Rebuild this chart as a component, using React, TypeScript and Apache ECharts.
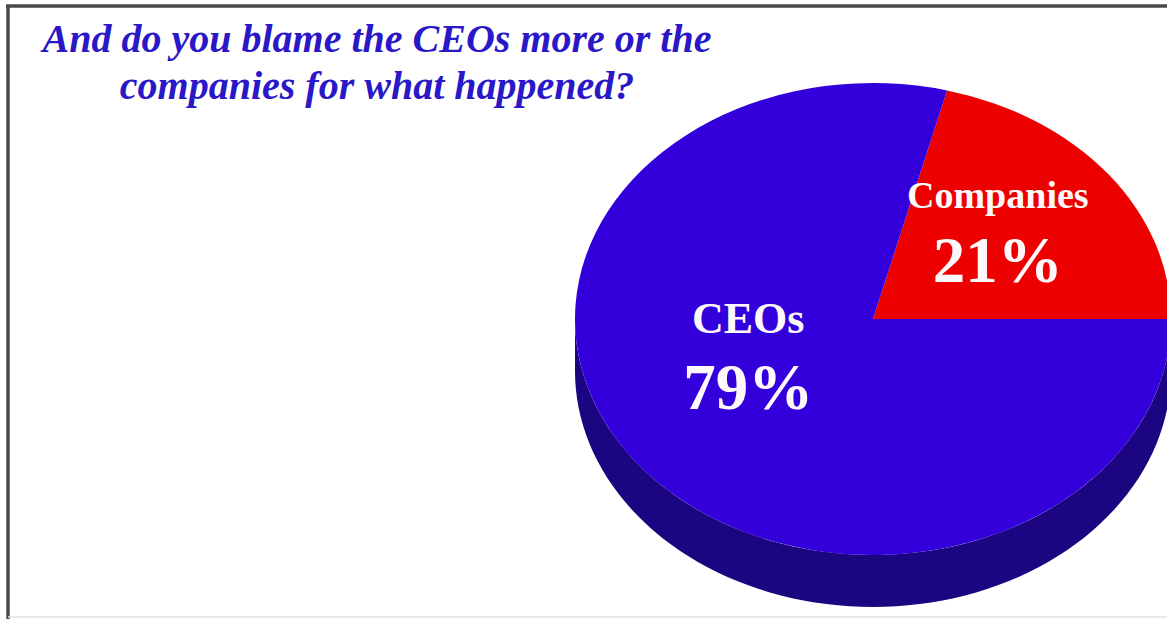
import React, { useEffect, useRef } from "react";
import * as echarts from "echarts";

// ---- data ----
const categories = ["Companies", "CEOs"];
const shares = [21, 79];
const valueLabels = ["21%", "79%"];
const titleLines = ["And do you blame the CEOs more or the", "companies for what happened?"];

// ---- styles ----
const SLICE_COLORS = ["#ec0000", "#3300dc"];
const SIDE_COLORS = ["#8a0000", "#1b0580"];
const NAME_SIZES = [38, 44];
const VALUE_SIZE = 65;
const LABEL_SHIFT_Y = [-15, -42];
const SERIF = '"Liberation Serif", "Times New Roman", serif';

export default function App() {
  const ref = useRef<HTMLDivElement>(null);

  useEffect(() => {
    if (!ref.current) return;
    const chart = echarts.init(ref.current, null, { renderer: "svg" });

    const CX = 873;
    const CY = 319;
    const RX = 298;
    const RY = 236;
    const DEPTH = 52;

    const total = shares.reduce((a, b) => a + b, 0);
    const starts: number[] = [];
    let acc = 0;
    shares.forEach((v) => {
      starts.push(acc);
      acc += v;
    });
    const toRad = (v: number) => (v / total) * Math.PI * 2;

    const renderItem = (params: any, api: any) => {
      const i = params.dataIndex;
      const v = api.value(0) as number;
      const t0 = toRad(starts[i]);
      const t1 = toRad(starts[i] + v);
      const children: any[] = [];

      // visible side (front half of the rim)
      const a = Math.max(t0, Math.PI);
      const b = Math.min(t1, Math.PI * 2);
      if (a < b) {
        const top: number[][] = [];
        const bottom: number[][] = [];
        const n = 80;
        for (let k = 0; k <= n; k++) {
          const t = a + ((b - a) * k) / n;
          const x = CX + RX * Math.cos(t);
          const y = CY - RY * Math.sin(t);
          top.push([x, y]);
          bottom.push([x, y + DEPTH]);
        }
        children.push({
          type: "polygon",
          z2: 1,
          shape: { points: top.concat(bottom.reverse()) },
          style: { fill: SIDE_COLORS[i] },
        });
      }

      // top face (circle sector squashed into an ellipse)
      children.push({
        type: "group",
        x: CX,
        y: CY,
        scaleY: RY / RX,
        children: [
          {
            type: "sector",
            z2: 2,
            shape: { cx: 0, cy: 0, r0: 0, r: RX, startAngle: -t1, endAngle: -t0, clockwise: true },
            style: { fill: SLICE_COLORS[i] },
          },
        ],
      });

      // labels
      const tm = (t0 + t1) / 2;
      const lx = CX + 0.53 * RX * Math.cos(tm);
      const ly = CY - 0.53 * RY * Math.sin(tm) + LABEL_SHIFT_Y[i];
      children.push({
        type: "text",
        z2: 10,
        x: lx,
        y: ly - (NAME_SIZES[i] * 0.45 + 15),
        style: {
          text: categories[i],
          align: "center",
          verticalAlign: "middle",
          fill: "#fff8fb",
          fontSize: NAME_SIZES[i],
          fontWeight: "bold",
          fontFamily: SERIF,
        },
      });
      children.push({
        type: "text",
        z2: 10,
        x: lx,
        y: ly + 33,
        style: {
          text: valueLabels[i],
          align: "center",
          verticalAlign: "middle",
          fill: "#fff8fb",
          fontSize: VALUE_SIZE,
          fontWeight: "bold",
          fontFamily: SERIF,
        },
      });

      return { type: "group", children };
    };

    chart.setOption({
      animation: false,
      backgroundColor: "#ffffff",
      graphic: [
        { type: "line", shape: { x1: 8, y1: 5, x2: 8, y2: 619 }, style: { stroke: "#4a4a4a", lineWidth: 3.5 } },
        { type: "line", shape: { x1: 6, y1: 6, x2: 1167, y2: 6 }, style: { stroke: "#4a4a4a", lineWidth: 3.5 } },
        { type: "line", shape: { x1: 8, y1: 617, x2: 1167, y2: 617 }, style: { stroke: "#e2e2e2", lineWidth: 1.5 } },
        ...titleLines.map((t, k) => ({
          type: "text",
          x: 377,
          y: 38 + k * 47,
          style: {
            text: t,
            x: 0,
            y: 0,
            align: "center",
            verticalAlign: "middle",
            fill: "#2a18c8",
            fontSize: 40,
            fontWeight: "bold",
            fontStyle: "italic",
            fontFamily: SERIF,
          },
        })),
      ],
      series: [
        {
          type: "custom",
          coordinateSystem: "none",
          silent: true,
          renderItem,
          data: shares.map((v, i) => ({ name: categories[i], value: [v] })),
        },
      ],
    });

    return () => chart.dispose();
  }, []);

  return (
    <div
      ref={ref}
      style={{ position: "absolute", left: 0, top: 0, width: 1167, height: 619 }}
    />
  );
}
